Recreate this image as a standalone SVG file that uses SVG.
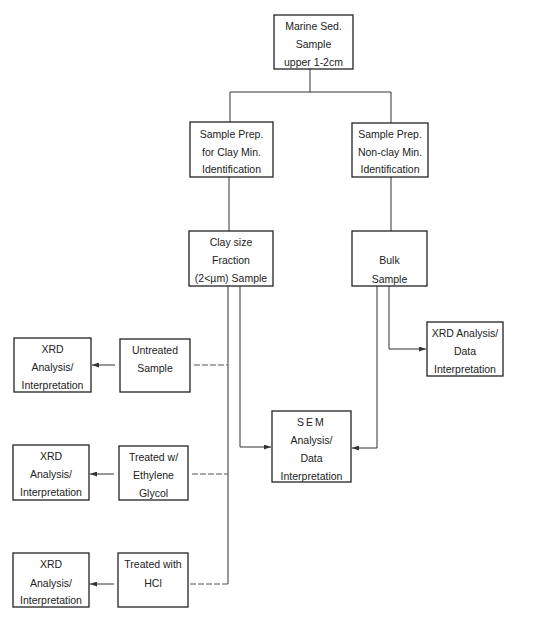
<svg xmlns="http://www.w3.org/2000/svg" width="537" height="621" viewBox="0 0 537 621">
<defs>
<style>
.box{fill:#fff;stroke:#222;stroke-width:1.3}
.t{font-family:"Liberation Sans",Arial,sans-serif;font-size:10.5px;fill:#222;text-anchor:middle}
.c{fill:none;stroke:#333;stroke-width:1}
.d{fill:none;stroke:#555;stroke-width:1;stroke-dasharray:6,2}
</style>
<marker id="ah" viewBox="0 0 7 5" refX="7" refY="2.5" markerWidth="7" markerHeight="5" orient="auto" markerUnits="userSpaceOnUse">
<path d="M0,0 L7,2.5 L0,5 Z" fill="#333"/>
</marker>
</defs>
<rect width="537" height="621" fill="#fff"/>
<g id="connectors">
<path class="c" d="M310,69 V92 M230,92 H391 M230,92 V122 M391,92 V123"/>
<path class="c" d="M229,177 V231 M391,177 V231"/>
<path class="c" d="M228,286 V584"/>
<path class="c" d="M240,286 V447 H271" marker-end="url(#ah)"/>
<path class="c" d="M377,286 V448 H352" marker-end="url(#ah)"/>
<path class="c" d="M389,286 V349 H426" marker-end="url(#ah)"/>
<path class="d" d="M194,365 H228"/>
<path class="c" d="M115,365 H92" marker-end="url(#ah)"/>
<path class="d" d="M192,474 H228"/>
<path class="c" d="M114,474 H90" marker-end="url(#ah)"/>
<path class="d" d="M190,584 H228"/>
<path class="c" d="M114,584 H90" marker-end="url(#ah)"/>
</g>
<g id="marine">
<rect class="box" x="274" y="15" width="79" height="54"/>
<text class="t" x="313.5" y="30">Marine Sed.</text>
<text class="t" x="313.5" y="48">Sample</text>
<text class="t" x="313.5" y="66">upper 1-2cm</text>
</g>
<g id="prepClay">
<rect class="box" x="190" y="122" width="83" height="55"/>
<text class="t" x="231.5" y="138">Sample Prep.</text>
<text class="t" x="231.5" y="156">for Clay Min.</text>
<text class="t" x="231.5" y="173">Identification</text>
</g>
<g id="prepNonClay">
<rect class="box" x="352" y="123" width="76" height="54"/>
<text class="t" x="390" y="138">Sample Prep.</text>
<text class="t" x="390" y="156">Non-clay Min.</text>
<text class="t" x="390" y="173">Identification</text>
</g>
<g id="claySize">
<rect class="box" x="189" y="231" width="84" height="55"/>
<text class="t" x="231" y="246">Clay size</text>
<text class="t" x="231" y="264">Fraction</text>
<text class="t" x="231" y="282">(2&lt;µm) Sample</text>
</g>
<g id="bulk">
<rect class="box" x="352" y="231" width="75" height="55"/>
<text class="t" x="389.5" y="264">Bulk</text>
<text class="t" x="389.5" y="283">Sample</text>
</g>
<g id="xrdBulk">
<rect class="box" x="427" y="322" width="76" height="54"/>
<text class="t" x="465" y="337">XRD Analysis/</text>
<text class="t" x="465" y="355">Data</text>
<text class="t" x="465" y="373">Interpretation</text>
</g>
<g id="sem">
<rect class="box" x="272" y="411" width="79" height="71"/>
<text class="t" x="311.5" y="426" letter-spacing="2">SEM</text>
<text class="t" x="311.5" y="444">Analysis/</text>
<text class="t" x="311.5" y="462">Data</text>
<text class="t" x="311.5" y="480">Interpretation</text>
</g>
<g id="untreated">
<rect class="box" x="120" y="339" width="70" height="53"/>
<text class="t" x="155" y="354">Untreated</text>
<text class="t" x="155" y="372">Sample</text>
</g>
<g id="xrd1">
<rect class="box" x="14" y="338" width="77" height="54"/>
<text class="t" x="52.5" y="353">XRD</text>
<text class="t" x="52.5" y="371">Analysis/</text>
<text class="t" x="52.5" y="389">Interpretation</text>
</g>
<g id="ethylene">
<rect class="box" x="119" y="446" width="69" height="54"/>
<text class="t" x="153.5" y="461">Treated w/</text>
<text class="t" x="153.5" y="479">Ethylene</text>
<text class="t" x="153.5" y="497">Glycol</text>
</g>
<g id="xrd2">
<rect class="box" x="13" y="445" width="76" height="55"/>
<text class="t" x="51" y="460">XRD</text>
<text class="t" x="51" y="478">Analysis/</text>
<text class="t" x="51" y="496">Interpretation</text>
</g>
<g id="hcl">
<rect class="box" x="118" y="553" width="70" height="54"/>
<text class="t" x="153" y="568">Treated with</text>
<text class="t" x="153" y="587">HCl</text>
</g>
<g id="xrd3">
<rect class="box" x="13" y="553" width="76" height="54"/>
<text class="t" x="51" y="568">XRD</text>
<text class="t" x="51" y="587">Analysis/</text>
<text class="t" x="51" y="604">Interpretation</text>
</g>
</svg>
